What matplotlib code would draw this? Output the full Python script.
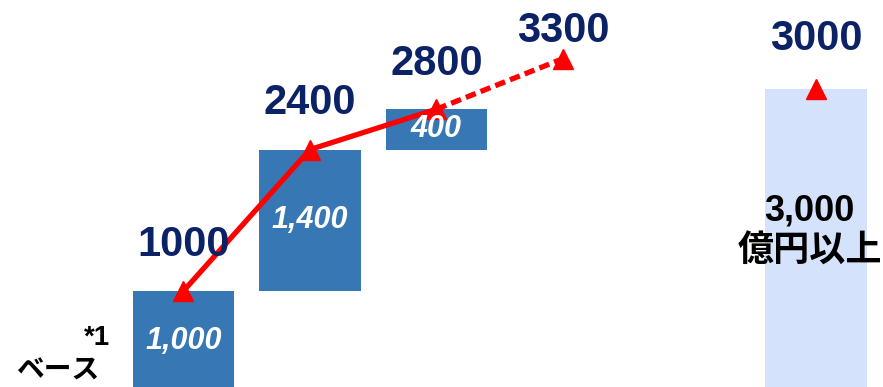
import matplotlib
matplotlib.use('Agg')
import matplotlib.pyplot as plt

plt.rcParams['font.family'] = ['Liberation Sans', 'Noto Sans CJK JP']

# waterfall steps
step_x = [0, 1, 2]
step_base = [0, 1000, 2400]
step_size = [1000, 1400, 400]
step_text = ['1,000', '1,400', '400']

# cumulative line
line_x = [0, 1, 2]
line_y = [1000, 2400, 2800]
dash_x = [2, 3]
dash_y = [2800, 3300]
top_labels = ['1000', '2400', '2800', '3300']
label_off = [46, 47, 45, 28]  # pixels above marker

# target bar
target_x = 5
target_val = 3000
target_text = '3,000\n億円以上'

navy = '#0b2266'
blue = '#3778b4'
light = '#d5e2fb'
red = '#ff0000'

fig = plt.figure(figsize=(8.83, 3.87), dpi=100)
ax = fig.add_axes([0, 0, 1, 1])
ax.set_xlim(-1.45, 5.53)
ax.set_ylim(49.5, 3881)
ax.axis('off')

ax.bar(step_x, step_size, bottom=step_base, width=0.8, color=blue, zorder=1)
ax.bar([target_x], [target_val], width=0.8, color=light, zorder=1)

for x, b, s, t in zip(step_x, step_base, step_size, step_text):
    ax.text(x, b + s / 2, t, ha='center', va='center', color='white',
            fontsize=22, fontweight='bold', fontstyle='italic', zorder=5)

ax.plot(line_x, line_y, color=red, lw=3.8, zorder=3)
ax.plot(dash_x, dash_y, color=red, lw=3.8, ls=(0, (2, 1)), zorder=3)
ax.plot(line_x + dash_x[1:], line_y + dash_y[1:], ls='none', marker='^',
        ms=15, color=red, zorder=4)
ax.plot([target_x], [target_val], ls='none', marker='^', ms=15, color=red, zorder=4)

pts = line_x + dash_x[1:]
vals = line_y + dash_y[1:]
for x, v, t, o in zip(pts, vals, top_labels, label_off):
    ax.annotate(t, (x, v), xytext=(0, o * 0.72), textcoords='offset points',
                ha='center', va='center', color=navy, fontsize=30, fontweight='bold')
ax.annotate(str(target_val), (target_x, target_val), xytext=(0, 50 * 0.72),
            textcoords='offset points', ha='center', va='center',
            color=navy, fontsize=30, fontweight='bold')

ax.text(target_x - 0.05, 1590, target_text, ha='center', va='center', color='black',
        fontsize=26, fontweight='bold', linespacing=1.25)

ax.text(97 / 883, 1 - 338 / 387, '*1', transform=ax.transAxes, ha='center', va='center',
        fontsize=20, fontweight='bold', color='black')
ax.text(58 / 883, 1 - 372 / 387, 'ベース', transform=ax.transAxes, ha='center', va='center',
        fontsize=20, fontweight='bold', color='black')

fig.savefig('out.png', dpi=100)
